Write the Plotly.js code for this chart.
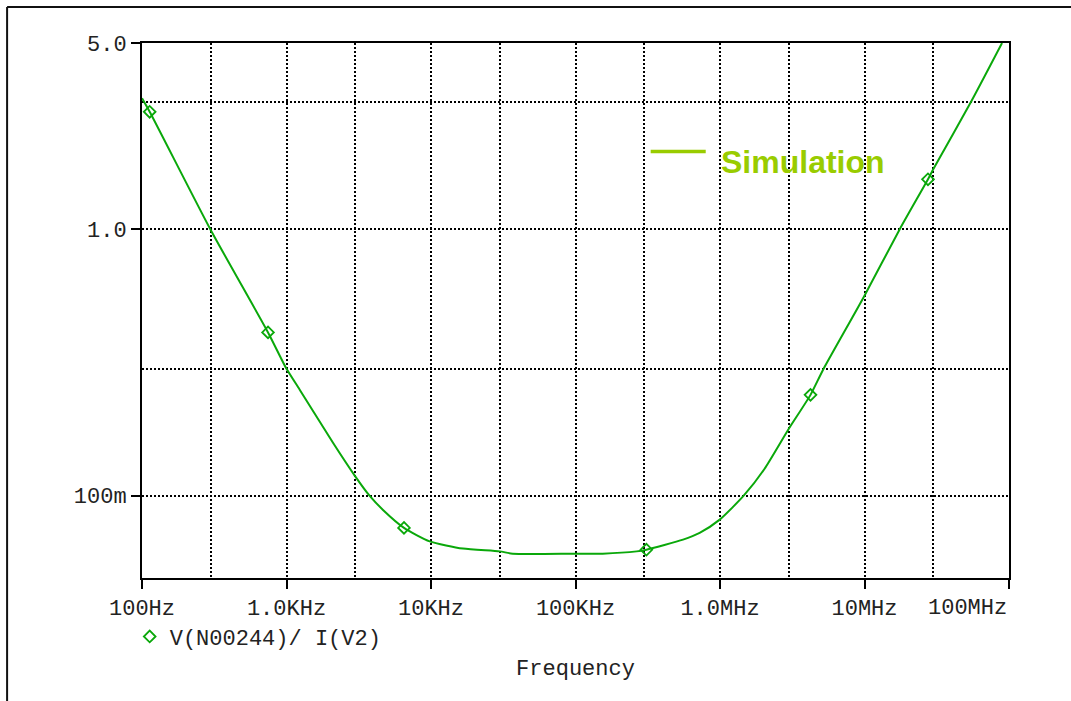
<!DOCTYPE html>
<html>
<head>
<meta charset="utf-8">
<script src="https://cdn.plot.ly/plotly-3.0.1.min.js"></script>
<style>
  html, body { margin: 0; padding: 0; background: #ffffff; }
  #chart { width: 1071px; height: 701px; }
</style>
</head>
<body>
<div id="chart"></div>
<script>
// ---- data (frequency in Hz, impedance magnitude in ohms) ----
const freqHz = [100, 113, 297, 745, 998, 1234, 2098, 2965, 3767, 4655, 6505, 9795, 16650, 29870, 36740,
  98640, 154300, 265000, 309500, 554900, 723000, 995700, 1459000, 2030000, 2986000, 4230000,
  5170000, 9930000, 17530000, 27500000, 30100000, 55000000, 89500000];
const impedance = [3.10, 2.76, 1.0, 0.41, 0.30, 0.25, 0.158, 0.119, 0.0998, 0.0884, 0.0757, 0.0674, 0.0633, 0.0618, 0.0606,
  0.0606, 0.0606, 0.0618, 0.0627, 0.0684, 0.0725, 0.0813, 0.100, 0.126, 0.178, 0.239,
  0.297, 0.559, 1.0, 1.54, 1.69, 3.03, 5.0];

// marker symbols drawn on the trace
const markerFreq = [113, 745, 6505, 309500, 4230000, 27500000];
const markerZ = [2.76, 0.41, 0.0757, 0.0627, 0.239, 1.54];

// axis ticks (the last label is right-aligned at the axis end, drawn as an annotation)
const xTickVals = [1e2, 1e3, 1e4, 1e5, 1e6, 1e7, 1e8];
const xTickText = ['100Hz', '1.0KHz', '10KHz', '100KHz', '1.0MHz', '10MHz', ''];
const xEndLabel = '100MHz';
const xMinorVals = [3e2, 3e3, 3e4, 3e5, 3e6, 3e7];
const yTickVals = [0.1, 1, 5];
const yTickText = ['100m', '1.0', '5.0'];
const yMinorVals = [0.3, 3];

const seriesName = 'V(N00244)/ I(V2)';
const xTitle = 'Frequency';
const noteText = 'Simulation';

const green = '#0aa80a';
const mono = {family: '"Liberation Mono", "DejaVu Sans Mono", monospace', size: 22, color: '#222222'};
const gridDash = '2px,2px';

const traces = [
  {
    x: freqHz, y: impedance, type: 'scatter', mode: 'lines',
    line: {color: green, width: 2, shape: 'spline', smoothing: 0.6}, showlegend: false, hoverinfo: 'skip'
  },
  {
    x: markerFreq, y: markerZ, type: 'scatter', mode: 'markers', name: seriesName,
    marker: {symbol: 'diamond-open', size: 9, color: green, line: {color: green, width: 1.8}},
    showlegend: true
  }
];

const layout = {
  width: 1071, height: 701,
  margin: {l: 142, r: 62, t: 43, b: 123},
  paper_bgcolor: '#ffffff', plot_bgcolor: '#ffffff',
  font: mono,
  xaxis: {
    type: 'log', range: [2, 8], autorange: false,
    tickmode: 'array', tickvals: xTickVals, ticktext: xTickText,
    ticks: 'outside', ticklen: 9, tickwidth: 2, tickcolor: '#000',
    tickfont: mono,
    showline: true, linecolor: '#000', linewidth: 2, mirror: true,
    showgrid: true, gridcolor: '#000', gridwidth: 2, griddash: gridDash,
    zeroline: false,
    minor: {tickmode: 'array', tickvals: xMinorVals, ticks: '', showgrid: true,
            gridcolor: '#000', gridwidth: 2, griddash: gridDash},
    title: {text: xTitle, font: mono, standoff: 38},
    automargin: false
  },
  yaxis: {
    type: 'log', range: [Math.log10(0.0491), Math.log10(5)], autorange: false,
    tickmode: 'array', tickvals: yTickVals, ticktext: yTickText,
    ticks: 'outside', ticklen: 9, tickwidth: 2, tickcolor: '#000',
    tickfont: mono,
    showline: true, linecolor: '#000', linewidth: 2, mirror: true,
    showgrid: true, gridcolor: '#000', gridwidth: 2, griddash: gridDash,
    zeroline: false,
    minor: {tickmode: 'array', tickvals: yMinorVals, ticks: '', showgrid: true,
            gridcolor: '#000', gridwidth: 2, griddash: gridDash},
    automargin: false
  },
  showlegend: true,
  legend: {
    x: -0.0142, xanchor: 'left', y: -0.1097, yanchor: 'middle',
    bgcolor: 'rgba(0,0,0,0)', borderwidth: 0, font: mono,
    itemclick: false, itemdoubleclick: false
  },
  shapes: [
    // outer frame (left and top)
    {type: 'line', xref: 'paper', yref: 'paper', x0: -0.1556, x1: -0.1556, y0: -0.26, y1: 1.0673,
     line: {color: '#111', width: 2}},
    {type: 'line', xref: 'paper', yref: 'paper', x0: -0.1556, x1: 1.08, y0: 1.0673, y1: 1.0673,
     line: {color: '#111', width: 2}},
    // "Simulation" key line
    {type: 'line', xref: 'paper', yref: 'paper', x0: 0.5867, x1: 0.6502, y0: 0.7974, y1: 0.7974,
     line: {color: '#99cc00', width: 3.5}}
  ],
  annotations: [
    {xref: 'paper', yref: 'paper', x: 0.6652, y: 0.778, xanchor: 'left', yanchor: 'middle',
     text: '<b>' + noteText + '</b>', showarrow: false,
     font: {family: '"Liberation Sans", Arial, sans-serif', size: 32, color: '#99cc00'}},
    {xref: 'paper', yref: 'paper', x: 1.0, y: -0.0564, xanchor: 'right', yanchor: 'middle',
     text: xEndLabel, showarrow: false, font: mono}
  ]
};

Plotly.newPlot('chart', traces, layout, {displayModeBar: false, staticPlot: true});
</script>
</body>
</html>
